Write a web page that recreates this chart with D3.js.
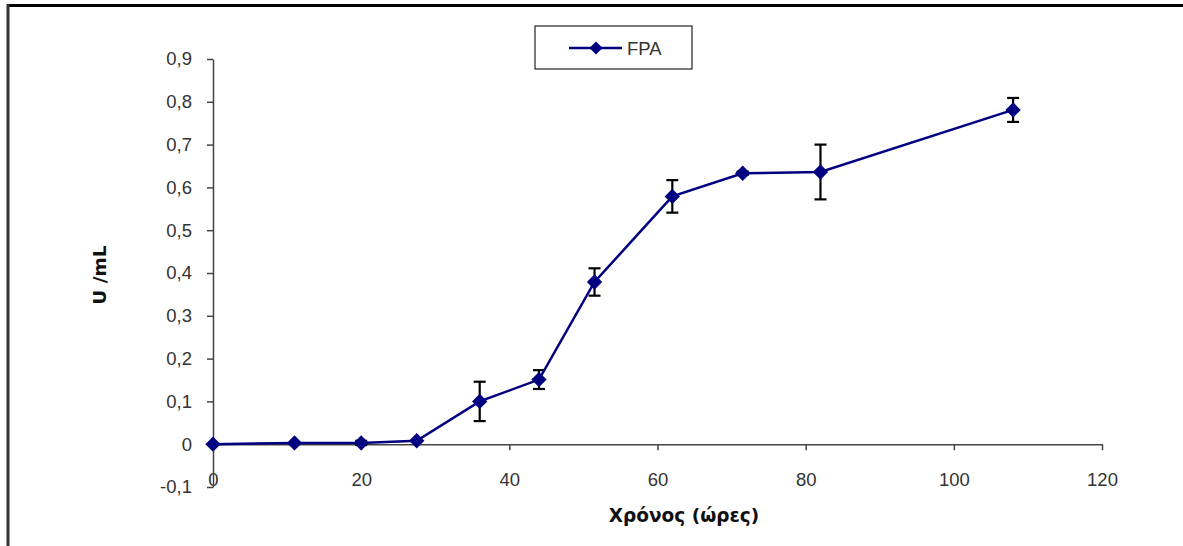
<!DOCTYPE html>
<html>
<head>
<meta charset="utf-8">
<script src="https://cdn.jsdelivr.net/npm/d3@7"></script>
<style>
  body { margin: 0; background: #fff; }
  svg { display: block; }
  .tick text { font-family: "Liberation Sans", Arial, sans-serif; font-size: 18.5px; fill: #333; }
</style>
</head>
<body>
<div id="chart"></div>
<script>
// time in hours, FPA activity (U/mL) and its error bars
const hours = [0, 11, 20, 27.5, 36, 44, 51.5, 62, 71.5, 82, 108];
const fpa = [0, 0.003, 0.003, 0.008, 0.1, 0.151, 0.379, 0.579, 0.633, 0.636, 0.781];
const fpaErr = [0, 0, 0.005, 0, 0.046, 0.022, 0.032, 0.038, 0.004, 0.064, 0.028];
const xTicks = [0, 20, 40, 60, 80, 100, 120];
const yTicks = [-0.1, 0, 0.1, 0.2, 0.3, 0.4, 0.5, 0.6, 0.7, 0.8, 0.9];
const seriesName = "FPA";

const W = 1183, H = 546;
const svg = d3.select("#chart").append("svg")
  .attr("width", W)
  .attr("height", H);

// frame of the pasted chart
svg.append("line").attr("x1", 7).attr("x2", W).attr("y1", 5.5).attr("y2", 5.5)
  .attr("stroke", "#000").attr("stroke-width", 3);
svg.append("line").attr("x1", 8).attr("x2", 8).attr("y1", 4).attr("y2", H)
  .attr("stroke", "#333").attr("stroke-width", 3);

const x = d3.scaleLinear().domain([0, 120]).range([213, 1102]);
const y = d3.scaleLinear().domain([-0.1, 0.9]).range([487, 59]);

// decimal comma, plain hyphen for negatives
const yFmt = d => (Math.abs(d) < 1e-9 ? "0" : d3.format(".1f")(d).replace(".", ",").replace("\u2212", "-"));

// y axis
const yAxis = svg.append("g")
  .attr("transform", `translate(${x(0)},0)`)
  .call(d3.axisLeft(y).tickValues(yTicks).tickFormat(yFmt).tickSize(6).tickSizeOuter(0).tickPadding(15));
yAxis.select(".domain").attr("stroke", "#444").attr("stroke-width", 1.5);
yAxis.selectAll(".tick line").attr("stroke", "#444").attr("stroke-width", 1.5);

// x axis sits on y = 0
const xAxis = svg.append("g")
  .attr("transform", `translate(0,${y(0)})`)
  .call(d3.axisBottom(x).tickValues(xTicks).tickFormat(d3.format("d")).tickSize(6).tickSizeOuter(0).tickPadding(23));
xAxis.select(".domain").attr("stroke", "#444").attr("stroke-width", 1.5);
xAxis.selectAll(".tick line").attr("stroke", "#444").attr("stroke-width", 1.5);

const pts = hours.map((h, i) => ({ h: h, v: fpa[i], e: fpaErr[i] }));

// error bars
const eb = svg.append("g").attr("stroke", "#000").attr("stroke-width", 2.2);
pts.filter(d => d.e > 0).forEach(d => {
  eb.append("line").attr("x1", x(d.h)).attr("x2", x(d.h)).attr("y1", y(d.v - d.e)).attr("y2", y(d.v + d.e));
  eb.append("line").attr("x1", x(d.h) - 6).attr("x2", x(d.h) + 6).attr("y1", y(d.v - d.e)).attr("y2", y(d.v - d.e));
  eb.append("line").attr("x1", x(d.h) - 6).attr("x2", x(d.h) + 6).attr("y1", y(d.v + d.e)).attr("y2", y(d.v + d.e));
});

// line
svg.append("path")
  .datum(pts)
  .attr("fill", "none")
  .attr("stroke", "#000080")
  .attr("stroke-width", 2.5)
  .attr("d", d3.line().x(d => x(d.h)).y(d => y(d.v)));

// diamond markers
const diamond = d3.symbol().type(d3.symbolDiamond2).size(150);
svg.selectAll(".mk")
  .data(pts)
  .enter()
  .append("path")
  .attr("class", "mk")
  .attr("d", diamond)
  .attr("transform", d => `translate(${x(d.h)},${y(d.v)})`)
  .attr("fill", "#000080");

// axis titles
svg.append("text")
  .attr("x", 684).attr("y", 522)
  .attr("text-anchor", "middle")
  .attr("font-family", "'DejaVu Sans', Verdana, sans-serif")
  .attr("font-weight", "bold")
  .attr("font-size", 18.5)
  .attr("fill", "#111")
  .text("Χρόνος (ώρες)");

svg.append("text")
  .attr("transform", "translate(106,275) rotate(-90)")
  .attr("text-anchor", "middle")
  .attr("font-family", "'DejaVu Sans', Verdana, sans-serif")
  .attr("font-weight", "bold")
  .attr("font-size", 18.5)
  .attr("fill", "#111")
  .text("U /mL");

// legend
const lg = svg.append("g");
lg.append("rect").attr("x", 535).attr("y", 26).attr("width", 157).attr("height", 43)
  .attr("fill", "#fff").attr("stroke", "#222").attr("stroke-width", 1.2);
lg.append("line").attr("x1", 569).attr("x2", 622).attr("y1", 48).attr("y2", 48)
  .attr("stroke", "#000080").attr("stroke-width", 2.5);
lg.append("path").attr("d", d3.symbol().type(d3.symbolDiamond2).size(110))
  .attr("transform", "translate(596,48)").attr("fill", "#000080");
lg.append("text").attr("x", 627).attr("y", 55)
  .attr("font-family", "'Liberation Sans', Arial, sans-serif")
  .attr("font-size", 18.5).attr("fill", "#333")
  .text(seriesName);
</script>
</body>
</html>
